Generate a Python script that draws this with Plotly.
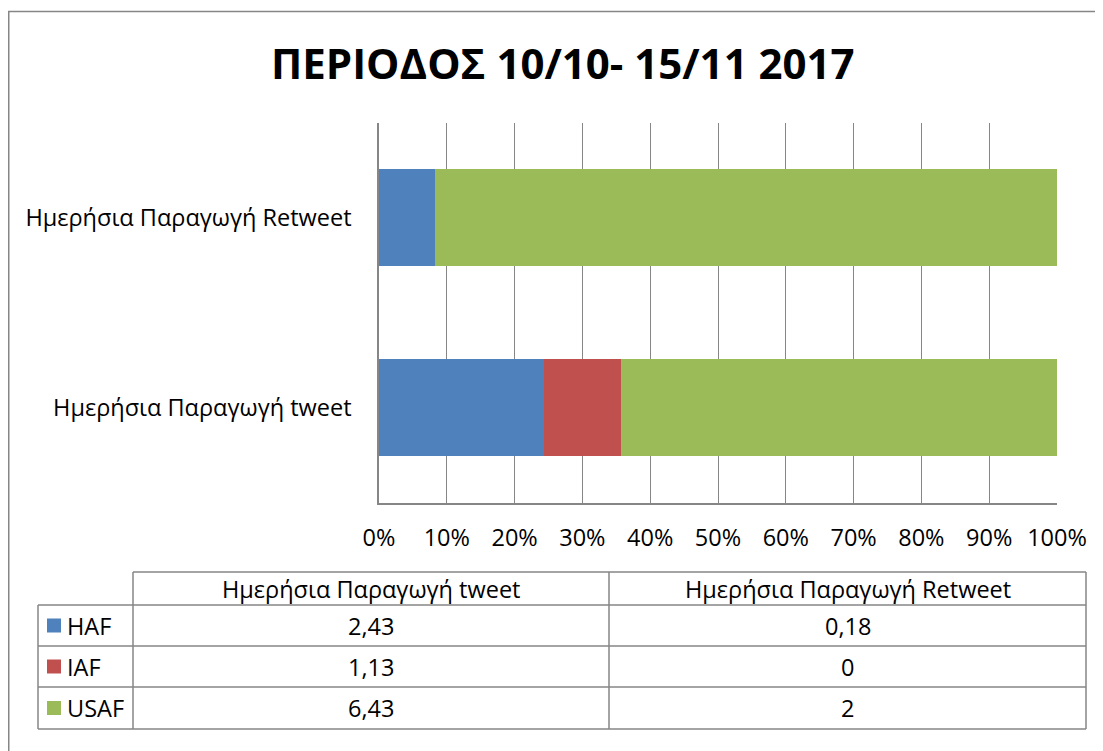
import plotly.graph_objects as go

# ---- data ----
title_text = "ΠΕΡΙΟΔΟΣ 10/10- 15/11 2017"
categories = ["Ημερήσια Παραγωγή tweet", "Ημερήσια Παραγωγή Retweet"]
series_names = ["HAF", "IAF", "USAF"]
haf = [2.43, 0.18]
iaf = [1.13, 0]
usaf = [6.43, 2]
series_values = [haf, iaf, usaf]
series_colors = ["#4F81BD", "#C0504D", "#9BBB59"]
x_ticks = list(range(0, 101, 10))

W, H = 1103, 751
FONT = "Open Sans"
GRID = "#868686"
FS = 23.5
OFF = 8  # page body margin compensation


def px(x):
    return (x - OFF) / W


def py(y):
    return 1 - (y - OFF) / H


fig = go.Figure()
for name, vals, col in zip(series_names, series_values, series_colors):
    fig.add_trace(go.Bar(
        y=categories, x=vals, name=name, orientation="h",
        marker=dict(color=col, line=dict(width=0)),
        showlegend=False, hoverinfo="x+y+name",
    ))

shapes = []
annotations = []

# outer chart border (extends beyond the picture on right/bottom)
shapes.append(dict(type="line", xref="paper", yref="paper",
                   x0=px(8), x1=px(W + 20), y0=py(11.5), y1=py(11.5),
                   line=dict(color=GRID, width=1.5)))
shapes.append(dict(type="line", xref="paper", yref="paper",
                   x0=px(8.5), x1=px(8.5), y0=py(11.5), y1=py(H + 20),
                   line=dict(color=GRID, width=2)))

# data table geometry
x0, x1, x2, x3 = 38, 133, 609, 1086
ys = [572, 605, 646, 687, 729]
lc = dict(color=GRID, width=1.5)
shapes.append(dict(type="line", xref="paper", yref="paper",
                   x0=px(x1), x1=px(x3), y0=py(ys[0]), y1=py(ys[0]), line=lc))
for yy in ys[1:]:
    shapes.append(dict(type="line", xref="paper", yref="paper",
                       x0=px(x0), x1=px(x3), y0=py(yy), y1=py(yy), line=lc))
for xx in (x1, x2, x3):
    shapes.append(dict(type="line", xref="paper", yref="paper",
                       x0=px(xx), x1=px(xx), y0=py(ys[0]), y1=py(ys[-1]), line=lc))
shapes.append(dict(type="line", xref="paper", yref="paper",
                   x0=px(x0), x1=px(x0), y0=py(ys[1]), y1=py(ys[-1]), line=lc))

col_centers = [(x1 + x2) / 2, (x2 + x3) / 2]
for ci, cat in enumerate(categories):
    annotations.append(dict(xref="paper", yref="paper", x=px(col_centers[ci]),
                            y=py((ys[0] + ys[1]) / 2), text=cat, showarrow=False,
                            xanchor="center", yanchor="middle",
                            font=dict(family=FONT, size=FS, color="#000")))


def fmt(v):
    return f"{v:g}".replace(".", ",")


for ri, (name, vals, col) in enumerate(zip(series_names, series_values, series_colors)):
    yc = (ys[ri + 1] + ys[ri + 2]) / 2
    shapes.append(dict(type="rect", xref="paper", yref="paper",
                       x0=px(47), x1=px(61), y0=py(yc - 7), y1=py(yc + 7),
                       fillcolor=col, line=dict(width=0)))
    annotations.append(dict(xref="paper", yref="paper", x=px(65), y=py(yc),
                            text=name, showarrow=False, xanchor="left", yanchor="middle",
                            font=dict(family=FONT, size=FS, color="#000")))
    for ci in range(2):
        annotations.append(dict(xref="paper", yref="paper", x=px(col_centers[ci]), y=py(yc),
                                text=fmt(vals[ci]), showarrow=False,
                                xanchor="center", yanchor="middle",
                                font=dict(family=FONT, size=FS, color="#000")))

# title
annotations.append(dict(xref="paper", yref="paper", x=px(563), y=py(63),
                        text="<b>" + title_text + "</b>", showarrow=False,
                        xanchor="center", yanchor="middle",
                        font=dict(family=FONT, size=42, color="#000")))

fig.update_layout(
    template="none",
    width=W, height=H, autosize=False,
    margin=dict(l=0, r=0, t=0, b=0, pad=0),
    paper_bgcolor="white", plot_bgcolor="white",
    barmode="stack", barnorm="percent", bargap=0.49,
    shapes=shapes, annotations=annotations,
    xaxis=dict(domain=[px(379), px(1057)], range=[0, 100], automargin=False,
               tickvals=x_ticks, ticktext=[f"{t}%" for t in x_ticks],
               showgrid=True, gridcolor=GRID, gridwidth=1,
               showline=True, linecolor=GRID, linewidth=1.5,
               ticks="", zeroline=False, ticklabelstandoff=13,
               tickfont=dict(family=FONT, size=FS, color="#000"), fixedrange=True),
    yaxis=dict(domain=[py(503), py(122.5)], automargin=False,
               showgrid=False, showline=True, linecolor=GRID, linewidth=1.5,
               ticks="", ticklabelstandoff=21, zeroline=False,
               tickfont=dict(family=FONT, size=FS, color="#000"), fixedrange=True),
    font=dict(family=FONT),
)

fig.write_html("out.html")
